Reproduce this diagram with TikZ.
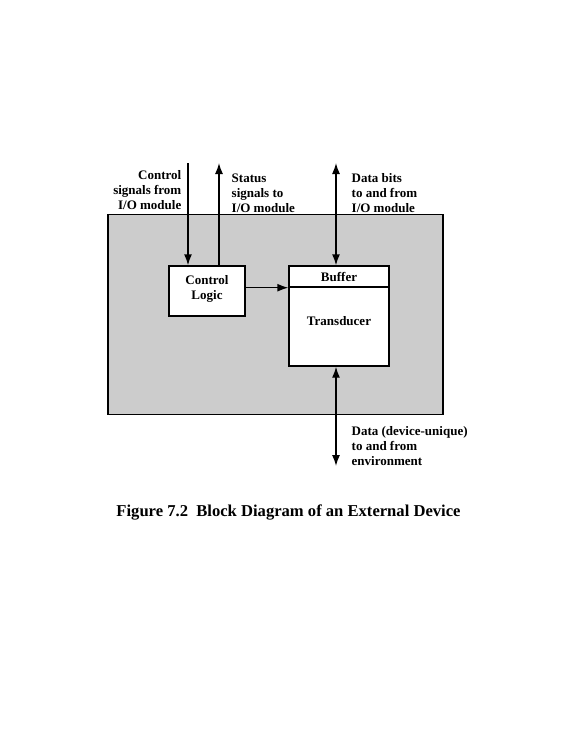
\documentclass[tikz,border=0pt]{standalone}
\usepackage{fontspec}
\setmainfont{Liberation Serif}
\usetikzlibrary{arrows.meta,positioning}
\definecolor{devgray}{RGB}{204,204,204}

\begin{document}
\begin{tikzpicture}[x=1pt, y=-1pt, line width=1.4pt,
    block/.style={draw, fill=white, inner sep=0pt},
    lbl/.style={font=\bfseries\fontsize{13}{15}\selectfont, inner sep=0pt},
    arr/.style={-{Latex[length=11pt,width=8pt]}},
    darr/.style={{Latex[length=11pt,width=8pt]}-{Latex[length=11pt,width=8pt]}}]
        \useasboundingbox (0,0) rectangle (569,737);
        \node[draw, fill=devgray, minimum width=335pt, minimum height=200pt] (dev) at (275.5,314.5) {};
        \node[block, minimum width=76pt, minimum height=50pt] (ctrl) at (207,291) {};
        \node[lbl, align=center, anchor=north] (ctrltxt) at (207,275) {Control\\Logic};
        \node[block, minimum width=100pt, minimum height=100pt] (trans) at (339,316) {};
        \node[block, lbl, minimum width=100pt, minimum height=21pt, anchor=north] (buf) at (trans.north) {Buffer};
        \node[lbl] (transtxt) at (339,321) {Transducer};

        \coordinate (cin) at (188,163);
        \coordinate (sout) at (219,163);
        \coordinate (dtop) at (336,163);
        \coordinate (denv) at (336,466);

        \draw[arr] (cin) to (cin |- ctrl.north);
        \draw[arr] (sout |- ctrl.north) to (sout);
        \draw[darr] (dtop) to (dtop |- buf.north);
        \draw[darr] (denv |- trans.south) to (denv);
        \draw[arr] (ctrl.east |- buf.south) to (buf.south west);

        \node[lbl, align=right, anchor=north east] (cinlbl) at (182,170) {Control\\signals from\\I/O module};
        \node[lbl, align=left, anchor=north west] (soutlbl) at (231,173) {Status\\signals to\\I/O module};
        \node[lbl, align=left, anchor=north west] (dtoplbl) at (351,173) {Data bits\\to and from\\I/O module};
        \node[lbl, align=left, anchor=north west] (denvlbl) at (351,426) {Data (device-unique)\\to and from\\environment};

        \node[font=\bfseries\fontsize{16.6}{19}\selectfont] (caption) at (288.5,512) {Figure 7.2\ \ Block Diagram of an External Device};
    \end{tikzpicture}
\end{document}
